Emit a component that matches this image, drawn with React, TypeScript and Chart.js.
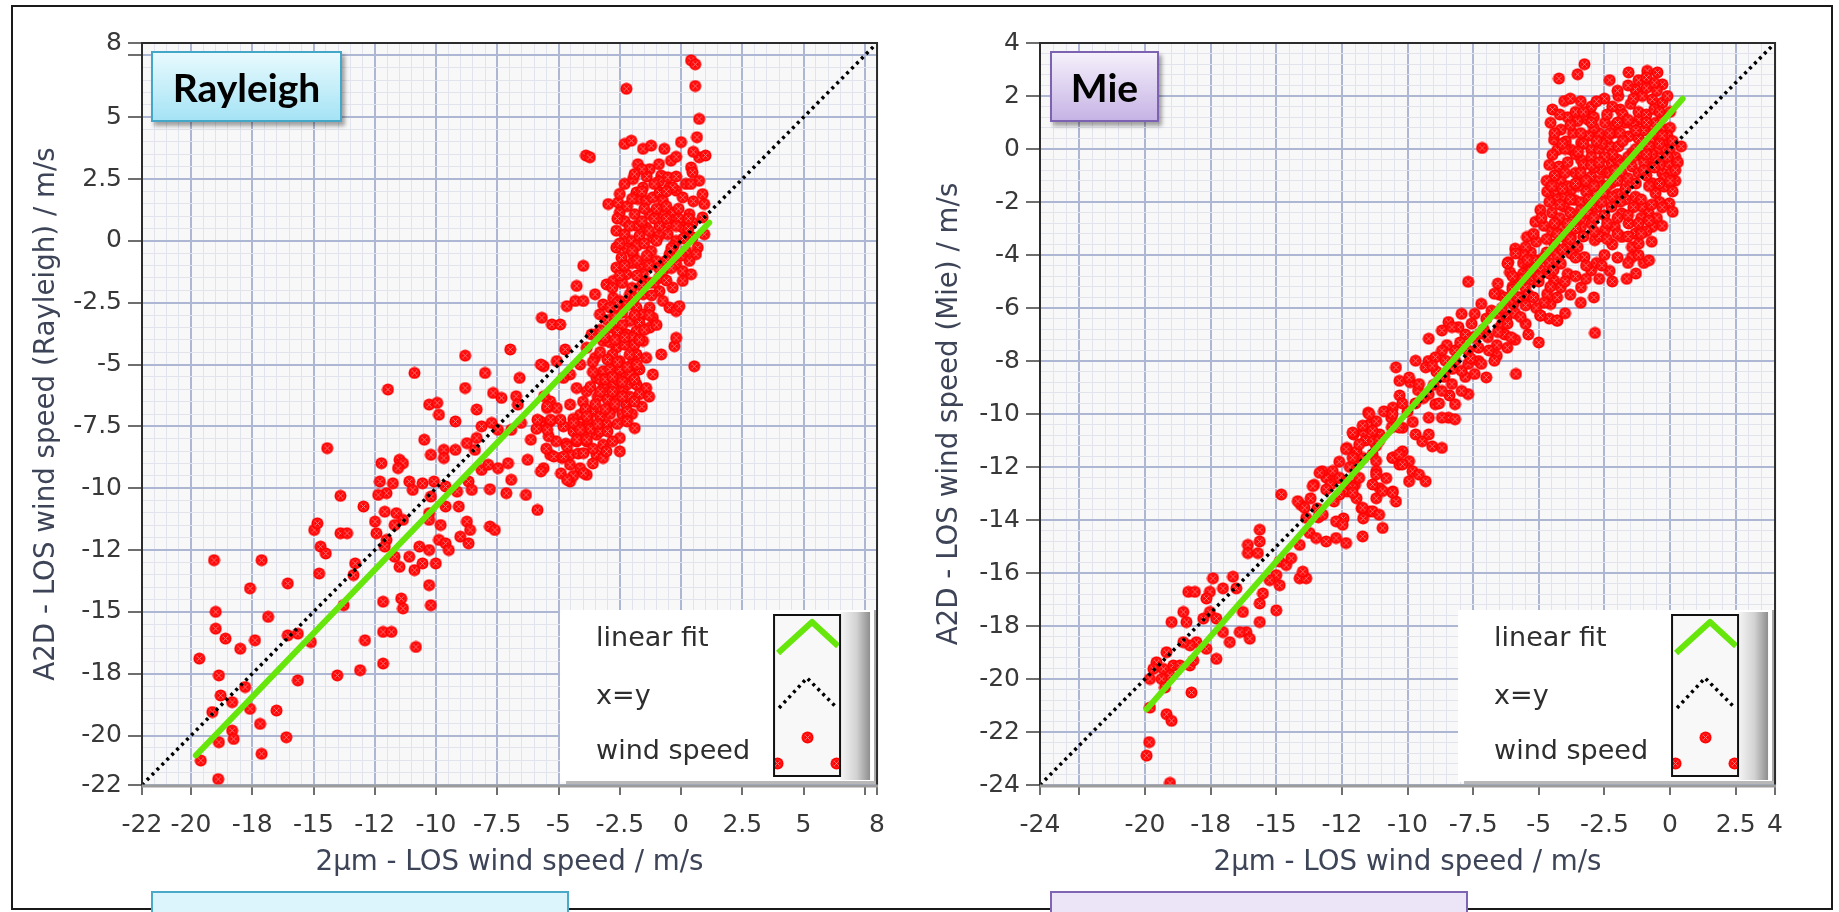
import React, { useEffect, useRef } from "react";
import { Chart, registerables } from "chart.js";

Chart.register(...registerables);

// ---------------- DATA ----------------
const RAYLEIGH_TICKS = [-22, -20, -17.5, -15, -12.5, -10, -7.5, -5, -2.5, 0, 2.5, 5, 7.5, 8];
const RAYLEIGH_LABELS = ["-22", "-20", "-18", "-15", "-12", "-10", "-7.5", "-5", "-2.5", "0", "2.5", "5", "", "8"];
const MIE_X_TICKS = [-24, -22.5, -20, -17.5, -15, -12.5, -10, -7.5, -5, -2.5, 0, 2.5, 4];
const MIE_X_LABELS = ["-24", "", "-20", "-18", "-15", "-12", "-10", "-7.5", "-5", "-2.5", "0", "2.5", "4"];
const MIE_Y_TICKS = [-24, -22, -20, -18, -16, -14, -12, -10, -8, -6, -4, -2, 0, 2, 4];
const MIE_Y_LABELS = ["-24", "-22", "-20", "-18", "-16", "-14", "-12", "-10", "-8", "-6", "-4", "-2", "0", "2", "4"];

const SERIES_LABELS = ["linear fit", "x=y", "wind speed"];

const rayleighFit = [[-19.8, -20.8], [1.15, 0.74]];
const rayleighIdentity = [[-22, -22], [8, 8]];
const mieFit = [[-19.94, -21.14], [0.48, 1.9]];
const mieIdentity = [[-24, -24], [4, 4]];

const rayleighPoints = [
  [0.41, 7.3], [0.58, 7.14], [-2.23, 6.15], [0.58, 6.26], [0.74, 4.93], [0.65, 4.19],
  [-3.88, 3.45], [-3.72, 3.38], [-2.3, 3.92], [-2.03, 4.05], [-1.55, 3.72], [-1.22, 3.85], [-0.68, 3.72], [-0.41, 3.24], [0.0, 3.99], [0.74, 3.38], [1.0, 3.45], [0.41, 2.97], [0.47, 2.77],
  [-1.76, 3.1], [-1.28, 2.9], [-0.81, 2.64], [-0.54, 2.57], [-2.3, 2.3], [-1.96, 2.5], [-1.55, 2.16], [-0.47, 2.16], [-0.2, 2.03], [0.74, 2.43], [0.88, 1.89], [0.95, 1.49],
  [-2.97, 1.49], [-2.57, 1.55], [-2.5, 1.15], [-1.82, 1.96], [-1.76, 1.69], [-1.42, 1.62], [-1.15, 1.76], [-0.88, 1.96], [-0.74, 1.62], [-0.34, 2.16], [0.07, 1.76],
  [-1.89, 1.08], [-1.28, 1.08], [-0.74, 1.08], [-0.34, 1.15], [0.34, 1.08], [0.47, 0.74], [0.88, 0.95], [0.95, 0.27],
  [-2.64, 0.41], [-2.3, 0.27], [-2.03, 0.0], [-1.82, 0.61], [-1.42, 0.54], [-1.15, 0.14], [-0.88, 0.61], [-0.54, 0.27], [-0.2, 0.0], [0.07, 0.54], [0.47, 0.14],
  [0.68, -0.27], [0.61, -0.54], [-2.64, -0.27], [-2.43, -0.68], [-2.64, -1.08], [-2.23, -1.35], [-1.96, -0.54], [-1.69, -0.95], [-1.55, -1.35], [-1.22, -0.41], [-1.01, -0.81], [-0.74, -1.22], [-0.47, -0.54], [-0.2, -0.95], [0.07, -1.22], [0.34, -0.81], [0.41, -1.35], [0.07, -1.62], [-0.34, -1.89],
  [-3.99, -1.01], [-4.26, -1.82], [-4.66, -2.64], [-4.32, -2.43], [-3.99, -2.43], [-5.68, -3.11], [-5.27, -3.38], [-4.93, -3.38], [-3.51, -2.16], [-3.04, -1.76], [-2.77, -1.62], [-3.31, -2.97], [-3.18, -2.57], [-2.77, -2.3], [-2.5, -2.43], [-2.09, -2.16], [-1.82, -2.7], [-1.55, -2.16], [-0.88, -2.03], [-0.74, -2.43], [-0.47, -2.7], [-0.2, -2.84], [-1.28, -2.7], [-1.15, -3.11], [-1.55, -2.97], [-0.07, -2.64],
  [0.54, -5.07], [-5.61, -5.07], [-5.07, -4.86], [-4.73, -4.39], [-4.53, -5.4], [-4.12, -5.0], [-3.85, -4.32], [-3.65, -3.78], [-3.51, -4.73], [-3.18, -4.05], [-3.18, -5.27], [-2.84, -3.51], [-2.64, -4.32], [-2.5, -4.86], [-2.36, -5.4], [-2.23, -3.78], [-2.09, -3.24], [-1.82, -3.65], [-1.82, -4.59], [-1.55, -4.05], [-1.42, -4.73], [-1.28, -3.51], [-1.15, -5.4], [-1.42, -5.95],
  [-2.09, -5.4], [-1.82, -5.81], [-2.36, -5.95], [-2.77, -5.81], [-3.18, -5.95], [-3.45, -5.54], [-3.85, -6.08], [-4.26, -5.95], [-0.81, -4.59], [-0.27, -4.26], [-0.2, -3.92],
  [-4.8, -5.54], [-5.34, -6.49], [-5.47, -6.76], [-5.07, -6.76], [-4.53, -6.62], [-4.12, -7.03], [-3.85, -7.43], [-3.58, -6.89], [-3.04, -7.43], [-3.45, -7.84], [-3.85, -8.11], [-3.18, -8.24], [-4.39, -7.7], [-4.26, -8.11], [-2.77, -6.76], [-2.23, -6.62], [-1.89, -7.57], [-2.5, -7.97], [-2.5, -8.51],
  [-5.34, -8.65], [-4.86, -8.78], [-4.53, -9.05], [-4.53, -8.65], [-4.12, -9.19], [-3.85, -9.46], [-4.53, -9.73], [-5.61, -9.19], [-5.74, -7.3], [-5.34, -7.3], [-3.45, -8.65], [-3.18, -8.78], [-3.04, -8.51],
  [-3.0, -3.2], [-2.7, -3.0], [-2.4, -3.4], [-2.0, -3.9], [-2.6, -3.7], [-3.3, -3.6], [-2.9, -4.1], [-2.3, -4.2], [-1.9, -4.2], [-2.1, -4.6], [-2.8, -4.6], [-3.3, -4.5], [-2.5, -5.2], [-2.0, -5.0], [-1.7, -5.2], [-2.9, -5.2], [-3.3, -5.6], [-2.6, -5.6], [-2.2, -5.8], [-1.7, -6.2], [-2.1, -6.3], [-2.6, -6.3], [-3.0, -6.4], [-3.4, -6.3], [-2.4, -7.0], [-2.9, -7.0], [-3.3, -7.1], [-2.0, -7.0], [-1.6, -6.7], [-1.3, -6.3], [-1.7, -3.3], [-1.3, -3.0], [-1.0, -3.4], [-2.2, -2.6], [-2.6, -2.5], [-1.9, -2.3], [-0.9, -1.5], [-1.3, -1.7], [-1.8, -1.4], [-2.0, -0.9], [-2.2, -0.3], [-1.7, 0.2], [-1.3, 0.4], [-0.9, 0.2], [-0.5, 0.7], [-0.1, 0.9], [-0.6, 1.4], [-1.0, 1.3], [-1.5, 1.3], [-2.2, 1.4], [-2.3, 0.8], [-0.3, -0.2], [0.2, -0.4], [-0.6, -0.8], [-1.4, -0.6], [-1.8, -0.2], [0.3, 0.5], [-0.1, 1.3], [0.5, 1.6], [0.2, 2.3], [-0.9, 2.4], [-1.4, 2.6],
  [-4.0, -6.5], [-4.4, -7.2], [-4.8, -7.5], [-3.7, -7.6], [-3.3, -7.7], [-4.0, -7.9], [-4.7, -8.2], [-4.9, -9.4], [-4.2, -8.6], [-3.6, -9.0], [-5.1, -8.1], [-5.4, -7.9], [-5.9, -7.6], [-5.5, -8.4], [-4.4, -9.5],
  [-2.8, -1.9], [-2.4, -1.7], [-2.0, -1.9], [-1.6, -1.8], [-1.2, -2.2], [-2.9, -2.7], [-2.4, -2.9], [-1.9, -3.0], [-1.5, -3.6], [-3.1, -3.9], [-2.7, -4.0], [-2.3, -3.9], [-1.7, -4.0], [-3.6, -4.9], [-3.0, -4.8], [-2.6, -4.9], [-2.2, -5.1], [-1.8, -5.0], [-3.6, -5.3], [-3.1, -5.6], [-2.8, -5.5], [-2.4, -5.7], [-1.9, -5.6], [-3.7, -5.9], [-3.3, -6.1], [-2.8, -6.1], [-2.4, -6.3], [-1.9, -6.5], [-3.9, -6.8], [-3.5, -6.6], [-3.1, -6.8], [-2.7, -6.6], [-2.2, -6.9], [-3.8, -7.2], [-3.4, -7.4], [-3.0, -7.7], [-2.6, -7.4], [-2.2, -7.3], [-4.2, -7.5], [-3.6, -8.4], [-2.8, -8.1],
  [-2.5, 1.9], [-2.0, 1.7], [-1.6, 2.0], [-1.1, 2.3], [-0.6, 2.0], [-0.2, 2.6], [0.4, 2.3], [-2.6, 0.9], [-2.1, 0.6], [-1.6, 0.8], [-1.1, 0.9], [-0.6, 0.9], [-0.2, 0.6], [0.3, 0.9], [-2.5, -0.1], [-2.0, -0.4], [-1.5, -0.1], [-1.0, 0.0], [-0.4, -0.3], [0.1, 0.1], [-2.3, -1.0], [-1.8, -0.8], [-1.3, -1.0], [-0.9, -1.1], [-0.4, -1.1], [0.0, -0.6], [-2.5, -1.4], [-1.1, -1.7], [-0.6, -1.6], [-1.6, 2.9], [-0.9, 3.1], [-0.2, 3.4], [0.5, 3.6], [-1.9, 2.7],
  [-8.81, -4.64], [-6.97, -4.39], [-5.72, -5.0], [-8.0, -5.34], [-6.59, -5.54], [-10.88, -5.34], [-11.96, -6.01], [-8.81, -5.95], [-7.67, -6.15], [-7.33, -6.35], [-6.73, -6.28], [-6.66, -6.62], [-5.59, -6.28], [-5.46, -6.69], [-10.28, -6.62], [-9.95, -6.55], [-9.88, -7.03], [-9.21, -7.3], [-8.34, -6.82], [-8.14, -7.5], [-7.73, -7.36], [-7.47, -7.64], [-6.93, -7.64], [-6.53, -7.36], [-6.13, -8.04], [-5.86, -7.23], [-5.32, -7.23], [-5.46, -7.64], [-4.92, -7.23], [-4.38, -7.36], [-4.12, -7.64], [-3.85, -7.09], [-4.25, -8.04], [-4.65, -8.31], [-3.85, -8.04], [-3.98, -8.58],
  [-14.44, -8.38], [-10.48, -8.04], [-10.21, -8.65], [-9.68, -8.45], [-9.21, -8.45], [-8.74, -8.18], [-8.34, -7.97], [-12.23, -8.99], [-11.49, -8.85], [-11.35, -8.99], [-11.55, -9.19], [-9.68, -8.78], [-8.41, -8.45], [-8.14, -9.26], [-7.87, -9.05], [-7.47, -9.19], [-7.06, -8.99], [-6.93, -9.66], [-6.26, -8.85], [-5.72, -9.32], [-5.19, -8.72], [-4.79, -8.72], [-4.65, -9.66], [-3.98, -9.39],
  [-12.29, -9.73], [-11.76, -9.8], [-12.02, -10.2], [-12.36, -10.27], [-11.09, -9.73], [-10.95, -10.07], [-10.55, -9.8], [-10.08, -9.73], [-13.9, -10.31], [-12.96, -10.74], [-10.21, -10.34], [-9.61, -9.93], [-9.14, -10.14], [-8.67, -9.73], [-8.54, -10.07], [-7.8, -10.04], [-7.13, -10.2], [-6.33, -10.27], [-5.86, -10.88], [-9.61, -10.74], [-9.07, -10.74],
  [-12.09, -10.95], [-11.62, -11.01], [-11.35, -11.28], [-12.49, -11.35], [-12.43, -11.82], [-11.69, -11.49], [-12.02, -12.09], [-10.28, -11.01], [-9.81, -11.49], [-9.88, -12.09], [-10.28, -11.28], [-8.74, -11.35], [-8.61, -11.69], [-9.01, -11.96], [-8.67, -12.23], [-7.8, -11.55], [-7.6, -11.69],
  [-14.97, -11.69], [-14.84, -11.42], [-13.9, -11.82], [-13.63, -11.82], [-14.71, -12.36], [-14.5, -12.64], [-14.77, -13.45], [-12.09, -12.36], [-11.69, -12.77], [-11.49, -13.18], [-11.09, -12.77], [-10.68, -12.36], [-10.28, -12.5], [-10.88, -13.31], [-10.55, -13.04], [-10.01, -13.04], [-9.61, -12.23], [-9.48, -12.5], [-13.3, -13.04], [-13.37, -13.51], [-13.77, -14.73], [-10.28, -13.92], [-10.21, -14.73], [-12.16, -14.59], [-11.42, -14.46], [-11.35, -14.86],
  [-19.06, -12.91], [-17.12, -12.91], [-17.59, -14.05], [-16.05, -13.85], [-18.99, -15.0], [-16.85, -15.2], [-18.99, -15.68], [-18.59, -16.08], [-17.99, -16.49], [-17.39, -16.15], [-16.05, -15.95], [-15.64, -15.88], [-15.11, -16.22], [-19.66, -16.89], [-12.16, -15.81], [-11.82, -15.81], [-12.9, -16.15], [-10.82, -16.42], [-12.16, -17.09], [-14.03, -17.57], [-13.1, -17.36], [-15.64, -17.77], [-18.86, -17.57], [-18.79, -18.38], [-18.32, -18.65], [-17.79, -18.04], [-19.13, -19.05], [-17.59, -18.92], [-16.51, -18.99], [-17.18, -19.53], [-18.32, -19.8], [-18.26, -20.14], [-18.86, -20.27], [-16.11, -20.07], [-17.12, -20.74], [-19.6, -21.01], [-18.89, -21.76],
];

const miePoints = [
  [-3.26, 3.2], [-3.52, 2.82], [-4.23, 2.66], [-1.58, 2.89], [-0.87, 2.95], [-0.48, 2.89], [-0.29, 2.44], [-4.03, 1.81], [-4.48, 1.49], [-3.06, 1.43], [-1.97, 2.0], [-1.9, 1.49], [-1.32, 2.25], [-1.06, 2.0], [-0.68, 1.87], [-0.29, 1.75],
  [-4.55, 0.99], [-4.16, 0.73], [-3.52, 1.05], [-3.13, 1.11], [-2.48, 0.99], [-2.16, 0.61], [-4.42, 0.35], [-3.97, 0.29], [-3.39, 0.23], [-4.29, -0.03], [-4.48, -0.22], [-4.23, -0.66], [-3.77, -0.03], [-3.39, -0.41], [-3.0, -0.03], [-2.61, 0.35], [-2.29, 0.1],
  [-1.71, 0.99], [-1.58, 0.48], [-1.19, 1.11], [-0.94, 0.73], [-0.55, 0.99], [-0.23, 0.73], [-1.97, 0.1], [-1.45, -0.15], [-1.06, 0.23], [-0.68, 0.35], [-0.29, 0.35], [-0.16, 0.1], [-0.1, 0.35], [-0.03, -0.03], [0.42, 0.1],
  [-4.68, -1.61], [-4.35, -1.67], [-4.94, -2.3], [-5.13, -2.75], [-5.45, -3.32], [-5.9, -3.76], [-6.16, -4.27], [-6.1, -4.65],
  [-4.16, -1.16], [-3.77, -1.54], [-4.03, -2.18], [-3.65, -1.92], [-3.39, -1.29], [-3.0, -1.04], [-2.61, -0.78], [-2.23, -0.53], [-2.87, -1.67], [-3.26, -2.18], [-3.52, -2.68], [-4.16, -2.94], [-3.77, -3.32], [-3.39, -2.94], [-3.13, -2.43], [-2.48, -1.67], [-2.23, -1.29],
  [-1.84, -0.91], [-1.45, -0.66], [-1.06, -0.28], [-0.81, -0.66], [-0.55, -0.41], [-0.29, -0.03], [-0.68, -1.29], [-0.29, -0.91], [-0.03, -0.53], [0.03, -0.91], [-0.55, -1.67], [-0.23, -1.42], [-0.03, -2.05], [0.1, -2.37], [-1.32, -1.8], [-1.06, -2.18], [-0.81, -2.43], [-0.68, -2.94], [-1.84, -2.43], [-1.58, -2.81], [-1.32, -3.19], [-1.45, -3.7], [-1.19, -3.57], [-2.23, -2.18], [-2.1, -2.94], [-1.84, -3.32], [-1.45, -4.08], [-1.65, -4.9],
  [-2.87, -3.44], [-2.48, -3.06], [-3.52, -3.7], [-3.26, -4.08], [-3.0, -4.58], [-3.39, -5.22], [-3.77, -3.95], [-4.16, -4.33], [-3.9, -4.71], [-4.42, -4.96], [-4.16, -5.22], [-4.94, -4.58], [-5.19, -4.96], [-5.52, -5.22], [-5.71, -5.59], [-4.94, -6.29], [-4.29, -6.48], [-2.86, -6.94], [-5.97, -5.85], [-6.23, -6.35], [-6.48, -6.73], [-4.68, -5.47], [-4.55, -5.85],
  [-7.16, 0.04],
  [-4.8, -2.9], [-4.5, -2.4], [-4.3, -1.9], [-3.9, -1.4], [-3.6, -0.9], [-3.3, -0.6], [-3.0, -0.3], [-2.7, 0.0], [-2.4, 0.4], [-2.1, 0.9], [-1.8, 1.3], [-1.5, 1.7], [-1.2, 1.4], [-0.9, 1.3], [-0.6, 1.5], [-0.3, 1.2], [0.0, 0.8], [-0.1, 0.5], [-0.5, 0.0], [-0.8, 0.1], [-1.2, 0.4], [-1.6, -0.3], [-2.0, -0.4], [-2.4, -0.9], [-2.7, -1.2], [-2.9, -0.7], [-3.2, -1.6], [-3.5, -1.4], [-3.8, -2.4], [-4.1, -3.3], [-4.4, -3.6], [-4.7, -3.9], [-5.0, -4.2], [-5.3, -3.9], [-5.6, -4.3], [-5.8, -4.9], [-5.4, -4.6], [-4.8, -4.1], [-4.5, -3.1], [-4.2, -2.6], [-3.4, -2.0], [-3.1, -1.9], [-2.8, -2.2], [-2.6, -1.4], [-2.3, -0.9], [-1.9, -0.6], [-1.6, -1.1], [-1.2, -0.9], [-0.9, -1.0], [-0.4, -0.6], [-0.2, -1.1], [-0.7, -0.2], [-1.0, 0.7], [-1.4, 0.9], [-2.7, 0.6], [-3.1, 0.5], [-3.7, 0.6], [-3.9, -0.5], [-4.0, -1.8], [-2.0, -1.7], [-1.7, -1.9], [-2.5, -2.5], [-3.0, -2.8], [-3.6, -3.0], [-2.7, -3.3], [-3.9, -3.6], [-4.3, -4.0], [-5.1, -3.5], [-5.5, -3.7], [-6.0, -5.2], [-5.4, -5.5], [-5.0, -5.0], [-0.6, 0.6], [-1.0, -0.5], [-2.2, -0.2], [-2.6, 0.2], [-3.3, 0.2], [-3.6, -0.2], [-4.0, 0.0], [-4.4, -1.0], [-4.7, -1.2], [-3.0, 1.6], [-2.2, 1.6], [-1.6, 2.4], [-0.9, 2.3], [-0.5, 2.2], [-2.5, 1.9], [-3.4, 1.8], [-3.9, 1.2], [0.2, -0.3], [0.2, -1.2], [0.1, -1.6], [-0.4, -2.0], [-0.5, -2.6], [-0.9, -3.1], [-1.1, -2.6], [-1.0, -4.3], [-2.2, -3.6], [-2.5, -4.0], [-2.8, -4.3], [-2.3, -4.6],
  [-3.8, 1.9], [-2.8, 1.8], [-2.0, 2.2], [-1.2, 2.6], [-0.6, 2.5], [-0.1, 2.0], [-0.9, 2.7], [-2.3, 2.6],
  [-4.2, 1.3], [-3.6, 1.4], [-2.9, 1.2], [-2.4, 1.3], [-1.6, 1.1], [-0.9, 1.0], [-0.4, 1.4], [0.0, 1.4], [-3.3, 1.4], [-1.4, 1.9],
  [-4.4, 0.6], [-3.8, 0.9], [-3.4, 0.6], [-2.9, 0.8], [-2.3, 0.6], [-1.9, 0.6], [-1.3, 0.7], [-0.3, 0.5], [0.1, 0.3], [-2.0, 1.0], [-3.0, 1.0],
  [-4.1, 0.2], [-3.5, -0.1], [-2.8, 0.3], [-2.5, -0.3], [-1.8, 0.3], [-1.3, 0.0], [-0.9, -0.2], [-0.4, 0.2], [0.3, -0.5],
  [-4.6, -0.6], [-4.0, -0.9], [-3.4, -0.9], [-3.0, -0.6], [-2.7, -0.5], [-2.1, -0.8], [-1.4, -0.3], [-1.0, -0.8], [-0.6, -0.7], [-0.1, -0.3], [0.2, -0.8],
  [-4.5, -1.4], [-4.1, -1.5], [-3.6, -1.3], [-3.2, -1.2], [-2.9, -1.4], [-2.4, -1.4], [-2.0, -1.2], [-1.7, -1.5], [-1.3, -1.3], [-0.8, -1.4], [-0.4, -1.3], [0.0, -1.2],
  [-4.6, -2.0], [-4.2, -2.1], [-3.8, -1.9], [-3.4, -2.3], [-3.0, -2.1], [-2.6, -2.0], [-2.2, -1.8], [-1.9, -2.0], [-1.4, -2.2], [-1.1, -1.9], [-0.7, -2.1], [-0.3, -2.2],
  [-4.9, -2.6], [-4.4, -2.8], [-3.9, -2.8], [-3.4, -2.6], [-2.9, -2.6], [-2.4, -2.8], [-2.0, -2.6], [-1.6, -2.5], [-1.2, -2.8], [-0.8, -2.7], [-0.3, -2.9],
  [-5.2, -3.2], [-4.7, -3.4], [-4.3, -3.2], [-3.8, -3.4], [-3.3, -3.3], [-2.9, -3.1], [-2.4, -3.4], [-2.0, -3.2], [-1.6, -3.3], [-1.1, -3.2], [-0.7, -3.5],
  [-5.6, -4.0], [-5.2, -4.2], [-4.6, -4.3], [-4.1, -3.8], [-3.6, -4.1], [-3.2, -4.4], [-2.6, -4.4], [-2.0, -4.1], [-1.6, -4.3], [-1.2, -4.0], [-0.8, -4.2],
  [-6.0, -4.8], [-5.6, -4.7], [-5.0, -4.8], [-4.6, -4.7], [-4.0, -5.0], [-3.6, -4.8], [-3.2, -4.9], [-2.7, -4.9], [-2.2, -5.0], [-1.3, -4.7],
  [-6.5, -5.5], [-6.1, -5.7], [-5.2, -5.6], [-4.8, -5.8], [-4.3, -5.6], [-3.8, -5.5], [-3.4, -5.8], [-2.9, -5.6],
  [-6.8, -6.1], [-6.4, -6.6], [-5.9, -6.2], [-5.5, -6.6], [-5.1, -6.0], [-4.6, -6.4], [-4.0, -6.2],
  [-7.5, -7.1], [-7.1, -6.8], [-6.6, -7.4], [-6.3, -7.0], [-5.9, -7.2], [-5.4, -7.0], [-5.0, -7.3],
  [-7.8, -7.0], [-8.2, -7.6], [-8.5, -7.4], [-8.9, -8.4], [-9.2, -8.0], [-9.6, -9.1], [-9.9, -8.8], [-10.3, -9.3], [-10.6, -10.5], [-10.9, -9.9], [-11.2, -11.2], [-11.6, -11.0], [-11.9, -11.9], [-12.2, -12.0], [-12.6, -11.8], [-12.8, -13.3], [-13.1, -12.4], [-13.4, -13.9], [-7.3, -8.0], [-7.8, -8.6], [-8.4, -9.3], [-6.6, -7.8], [-6.2, -7.5],
  [-5.88, -3.94], [-5.44, -4.19], [-6.19, -4.32], [-4.44, -4.57], [-4.56, -5.2], [-4.94, -6.28], [-4.31, -6.47], [-7.69, -5.01], [-6.56, -5.08], [-6.69, -5.46], [-7.19, -5.84], [-7.44, -6.22], [-7.94, -6.22], [-8.06, -6.72], [-8.44, -6.53], [-7.56, -6.59], [-7.25, -6.97], [-6.94, -7.1], [-6.56, -6.91], [-6.19, -6.59], [-6.06, -7.1], [-5.69, -6.34], [-9.19, -7.16], [-8.69, -6.85], [-8.31, -6.72], [-8.69, -7.61], [-8.94, -7.86], [-8.56, -7.99], [-9.69, -7.99], [-9.31, -8.24], [-9.06, -8.18], [-10.44, -8.24], [-10.31, -8.75], [-9.94, -8.62], [-9.56, -8.87], [-8.19, -7.99], [-7.94, -8.37], [-7.69, -8.11], [-7.44, -8.49], [-7.19, -8.11], [-7.0, -8.62], [-6.69, -7.99], [-5.87, -8.49], [-7.69, -9.25], [-8.19, -9.63], [-8.44, -10.14], [-8.94, -9.63], [-9.19, -9.25], [-8.69, -9.13], [-8.31, -8.87], [-7.94, -9.13], [-9.19, -10.14], [-8.69, -10.14], [-8.19, -10.2], [-10.56, -9.76], [-10.62, -10.14], [-10.19, -10.52], [-9.69, -10.77], [-9.44, -11.03], [-9.19, -10.77], [-9.06, -11.22], [-8.69, -11.28], [-11.5, -9.95], [-11.44, -10.39], [-11.69, -10.65], [-12.06, -10.77], [-11.06, -10.77], [-11.31, -11.03], [-11.19, -10.27], [-12.31, -11.28], [-11.94, -11.41], [-11.69, -11.66], [-10.56, -11.66], [-10.19, -11.41], [-10.31, -11.91], [-9.94, -11.78], [-9.81, -12.16], [-9.56, -12.29], [-9.31, -12.54], [-9.94, -12.54], [-11.19, -12.16], [-10.81, -12.42], [-11.06, -12.8], [-10.56, -12.92], [-10.44, -13.3], [-11.19, -13.18], [-11.44, -13.68], [-13.25, -12.16], [-13.56, -12.67], [-12.94, -12.67], [-12.69, -12.42], [-12.31, -12.92], [-12.0, -12.67], [-11.94, -13.18], [-13.69, -13.18], [-14.06, -13.43], [-13.44, -13.56], [-11.75, -13.56], [-11.69, -13.94], [-12.44, -13.94],
  [-6.3, -5.6], [-6.0, -5.3], [-5.6, -4.9], [-5.3, -4.6], [-6.6, -6.2], [-7.0, -6.4], [-7.3, -7.5], [-7.7, -7.6], [-8.0, -7.3], [-8.3, -8.3], [-8.6, -8.6], [-9.0, -8.9], [-9.4, -9.4], [-9.7, -9.6], [-10.0, -9.9], [-10.2, -9.6], [-6.4, -6.0], [-5.8, -5.6], [-5.5, -5.9], [-6.9, -7.6], [-7.6, -7.9], [-8.8, -9.6], [-9.8, -10.3],
  [-11.46, -10.0], [-11.71, -10.44], [-12.09, -10.7], [-11.84, -11.14], [-11.33, -10.63], [-11.08, -11.01], [-10.57, -10.0], [-10.32, -10.51], [-12.34, -11.33], [-12.09, -11.65], [-11.33, -11.52], [-11.2, -11.77], [-10.57, -11.65], [-10.32, -11.52], [-10.19, -11.9], [-13.35, -12.22], [-12.85, -12.15], [-12.59, -12.41], [-12.34, -12.59], [-12.09, -12.78], [-11.84, -12.41], [-13.61, -12.72], [-13.1, -12.85], [-12.59, -13.04], [-12.09, -12.97], [-11.2, -12.28], [-10.95, -12.91], [-10.57, -12.97], [-11.33, -12.66], [-11.71, -13.54], [-11.33, -13.67], [-10.95, -14.3], [-11.08, -13.8], [-11.71, -14.62], [-14.81, -13.04], [-14.18, -13.29], [-13.92, -13.54], [-13.86, -13.92], [-13.23, -13.8], [-12.72, -14.05], [-12.47, -14.18], [-13.73, -14.49], [-13.48, -14.68], [-13.1, -14.81], [-12.72, -14.68], [-12.34, -14.87], [-14.11, -14.94], [-15.63, -14.37], [-16.08, -14.94], [-15.63, -14.81], [-16.08, -15.25], [-15.7, -15.25], [-14.87, -15.57], [-14.62, -15.7], [-15.0, -16.08], [-15.25, -16.27], [-14.87, -16.46], [-14.43, -15.44], [-14.11, -16.2], [-13.86, -16.2], [-13.99, -15.95], [-15.51, -16.77], [-15.0, -17.41], [-15.63, -17.15], [-17.41, -16.2], [-16.65, -16.14], [-17.03, -16.58], [-16.52, -16.58], [-17.53, -16.71], [-18.35, -16.71], [-18.1, -16.71], [-17.66, -16.96], [-17.53, -17.47], [-17.28, -17.72], [-17.78, -17.72], [-18.54, -17.47], [-18.42, -17.85], [-18.99, -17.85], [-16.27, -17.47], [-15.63, -17.85], [-16.14, -18.23], [-16.39, -18.23], [-16.01, -18.48], [-17.03, -18.23], [-16.77, -18.61], [-17.28, -19.24], [-17.66, -18.86], [-18.04, -18.61], [-18.29, -18.73], [-18.54, -18.61], [-18.92, -19.49], [-19.18, -18.99], [-19.56, -19.37], [-19.68, -19.62], [-19.3, -19.62], [-18.29, -19.49], [-18.16, -19.3], [-18.67, -19.49], [-19.05, -19.87], [-19.37, -20.0], [-19.81, -20.0], [-19.24, -20.32], [-18.23, -20.51], [-19.81, -21.08], [-19.18, -21.33], [-18.99, -21.58], [-19.84, -22.38], [-19.94, -22.89], [-19.05, -23.92],
];

// ---------------- STYLE ----------------
const FONT = "'DejaVu Sans', 'Liberation Sans', sans-serif";
const MAJOR_GRID = "#adb6d2";
const MINOR_GRID = "#e1e4ed";
const FIT_COLOR = "#66e60a";

function makeMarker() {
  const c = document.createElement("canvas");
  c.width = 13;
  c.height = 13;
  const g = c.getContext("2d");
  g.fillStyle = "#ff0000";
  g.beginPath();
  g.arc(6.5, 6.5, 6.0, 0, Math.PI * 2);
  g.fill();
  g.strokeStyle = "rgba(255,170,170,0.75)";
  g.lineWidth = 1;
  g.beginPath();
  g.moveTo(4.2, 4.2); g.lineTo(8.8, 8.8);
  g.moveTo(8.8, 4.2); g.lineTo(4.2, 8.8);
  g.stroke();
  g.strokeStyle = "rgba(255,120,120,0.35)";
  g.beginPath();
  g.arc(6.5, 6.5, 3.8, 0, Math.PI * 2);
  g.stroke();
  return c;
}

function withMinor(majors, min, max, step) {
  const s = new Set(majors.map((v) => Math.round(v * 1000)));
  const n = Math.round((max - min) / step);
  for (let i = 0; i <= n; i++) s.add(Math.round((min + i * step) * 1000));
  return Array.from(s).sort((a, b) => a - b).map((v) => v / 1000);
}

function makeScale(majors, labels, min, max, minorStep, axis, titleText, titlePad, fixedSize, tickLen, labelPad) {
  const key = (v) => Math.round(v * 1000);
  const labelMap = new Map();
  majors.forEach((v, i) => labelMap.set(key(v), labels[i]));
  const all = withMinor(majors, min, max, minorStep);
  const isMajor = (c) => c.tick && labelMap.has(key(c.tick.value));
  return {
    type: "linear",
    min,
    max,
    afterBuildTicks: (scale) => {
      scale.ticks = all.map((v) => ({ value: v }));
    },
    afterFit: (scale) => {
      if (axis === "x") scale.height = fixedSize;
      else scale.width = fixedSize;
    },
    border: { display: false },
    grid: {
      color: (c) => (isMajor(c) ? MAJOR_GRID : MINOR_GRID),
      lineWidth: (c) => (isMajor(c) ? 2 : 1),
      tickColor: (c) => (isMajor(c) ? "#4a4a4a" : "rgba(0,0,0,0)"),
      tickWidth: 1.6,
      tickLength: tickLen,
      drawTicks: true,
    },
    ticks: {
      autoSkip: false,
      maxRotation: 0,
      minRotation: 0,
      padding: labelPad,
      color: "#383838",
      font: { family: FONT, size: 25 },
      callback: (value) => {
        const l = labelMap.get(key(value));
        return l === undefined ? "" : l;
      },
    },
    title: {
      display: true,
      text: titleText,
      color: "#3d4457",
      font: { family: FONT, size: 27.7 },
      padding: titlePad,
    },
  };
}

const legendPlugin = {
  id: "panelLegend",
  afterDatasetsDraw(chart) {
    const { ctx, chartArea: ca } = chart;
    const ds = chart.data.datasets;
    const pts = ds.find((d) => d.label === SERIES_LABELS[2]);
    const fit = ds.find((d) => d.label === SERIES_LABELS[0]);
    const ident = ds.find((d) => d.label === SERIES_LABELS[1]);
    const marker = pts.pointStyle;
    const L = ca.right - 317, T = ca.bottom - 175, R = ca.right - 1, B = ca.bottom - 3;
    ctx.save();
    ctx.fillStyle = "#ffffff";
    ctx.fillRect(L, T, R - L, B - T);
    const gx = R - 36;
    const gr = ctx.createLinearGradient(gx, 0, R - 6, 0);
    gr.addColorStop(0, "#f6f6f6");
    gr.addColorStop(0.55, "#d2d2d2");
    gr.addColorStop(1, "#8e8e8e");
    ctx.fillStyle = gr;
    ctx.fillRect(gx, T + 2, R - 6 - gx, B - T - 4);
    ctx.fillStyle = "#a8a8a8";
    ctx.fillRect(R - 2, T, 2, B - T);
    ctx.fillStyle = "#b8b8b8";
    ctx.fillRect(L + 6, B - 1, R - L - 6, 3);
    const sx = ca.right - 103, sy = T + 5, sw = 66, sh = 161;
    ctx.fillStyle = "#f8f8f8";
    ctx.fillRect(sx, sy, sw, sh);
    ctx.fillStyle = "#2e2e2e";
    ctx.font = `27px ${FONT}`;
    ctx.textBaseline = "middle";
    ctx.textAlign = "left";
    ctx.fillText(SERIES_LABELS[0], L + 36, T + 29);
    ctx.fillText(SERIES_LABELS[1], L + 36, T + 87);
    ctx.fillText(SERIES_LABELS[2], L + 36, T + 142);
    ctx.save();
    ctx.beginPath();
    ctx.rect(sx, sy, sw, sh);
    ctx.clip();
    ctx.strokeStyle = fit.borderColor;
    ctx.lineWidth = fit.borderWidth;
    ctx.lineJoin = "round";
    ctx.beginPath();
    ctx.moveTo(sx + 4, sy + 38);
    ctx.lineTo(sx + 38, sy + 7);
    ctx.lineTo(sx + 64, sy + 31);
    ctx.stroke();
    ctx.strokeStyle = ident.borderColor;
    ctx.lineWidth = ident.borderWidth;
    ctx.setLineDash(ident.borderDash);
    ctx.beginPath();
    ctx.moveTo(sx + 5, sy + 93);
    ctx.lineTo(sx + 33, sy + 63);
    ctx.lineTo(sx + 63, sy + 93);
    ctx.stroke();
    ctx.setLineDash([]);
    if (marker && marker.width) {
      ctx.drawImage(marker, sx + 27, sy + 116);
      ctx.drawImage(marker, sx - 3, sy + 142);
      ctx.drawImage(marker, sx + 56, sy + 142);
    }
    ctx.restore();
    ctx.strokeStyle = "#111";
    ctx.lineWidth = 2;
    ctx.strokeRect(sx, sy, sw, sh);
    // plot frame
    ctx.strokeStyle = "#2b2b2b";
    ctx.lineWidth = 2;
    ctx.beginPath();
    ctx.moveTo(ca.left, ca.bottom);
    ctx.lineTo(ca.left, ca.top);
    ctx.lineTo(ca.right, ca.top);
    ctx.lineTo(ca.right, ca.bottom);
    ctx.stroke();
    ctx.strokeStyle = "#9c9c9c";
    ctx.lineWidth = 3;
    ctx.beginPath();
    ctx.moveTo(ca.left, ca.bottom + 1);
    ctx.lineTo(ca.right + 1, ca.bottom + 1);
    ctx.stroke();
    ctx.restore();
  },
};

const bgPlugin = {
  id: "plotBg",
  beforeDraw(chart) {
    const { ctx, chartArea: ca } = chart;
    ctx.save();
    ctx.fillStyle = "#f8f8f8";
    ctx.fillRect(ca.left, ca.top, ca.right - ca.left, ca.bottom - ca.top);
    ctx.restore();
  },
};

function toXY(arr) {
  return arr.map((p) => ({ x: p[0], y: p[1] }));
}

function Panel({ left, points, fit, identity, xTicks, xLabels, yTicks, yLabels, min, max, yMinor, yTitle, yTitlePad, padRight }) {
  const ref = useRef(null);
  useEffect(() => {
    const marker = makeMarker();
    const chart = new Chart(ref.current, {
      type: "scatter",
      data: {
        datasets: [
          { label: SERIES_LABELS[2], data: toXY(points), pointStyle: marker, pointRadius: 6.5, showLine: false, order: 3 },
          { label: SERIES_LABELS[1], data: toXY(identity), showLine: true, borderColor: "#000000", borderWidth: 3.5, borderDash: [3, 4], pointRadius: 0, order: 2 },
          { label: SERIES_LABELS[0], data: toXY(fit), showLine: true, borderColor: FIT_COLOR, borderWidth: 6, borderCapStyle: "round", pointRadius: 0, order: 1 },
        ],
      },
      options: {
        animation: false,
        responsive: false,
        devicePixelRatio: 1,
        events: [],
        layout: { padding: { top: 23, right: padRight, left: 0, bottom: 0 } },
        plugins: { legend: { display: false }, tooltip: { enabled: false }, title: { display: false } },
        scales: {
          x: makeScale(xTicks, xLabels, min, max, 0.5, "x", "2\u00b5m - LOS wind speed / m/s", { top: 0, bottom: 11 }, 105, 10, 15),
          y: makeScale(yTicks, yLabels, min, max, yMinor, "y", yTitle, { top: yTitlePad, bottom: 0 }, 122, 14, 6),
        },
      },
      plugins: [bgPlugin, legendPlugin],
    });
    return () => chart.destroy();
  }, []);
  return (
    <canvas
      ref={ref}
      width={880}
      height={870}
      style={{ position: "absolute", left, top: 20, width: 880, height: 870 }}
    />
  );
}

function TitleBox({ left, width, text, top, bottom, border }) {
  return (
    <div
      style={{
        position: "absolute",
        left,
        top: 51,
        width,
        height: 71,
        boxSizing: "border-box",
        border: `2px solid ${border}`,
        background: `linear-gradient(to bottom, ${top}, ${bottom})`,
        boxShadow: "3px 4px 4px rgba(0,0,0,0.35)",
        display: "flex",
        alignItems: "center",
        justifyContent: "center",
        fontFamily: "Lato, 'Open Sans', sans-serif",
        fontWeight: 700,
        fontSize: 39,
        color: "#000",
      }}
    >
      {text}
    </div>
  );
}

export default function App() {
  return (
    <div style={{ position: "fixed", left: 0, top: 0, width: 1839, height: 912, background: "#ffffff", overflow: "hidden" }}>
      <div style={{ position: "absolute", left: 11, top: 5, width: 1822, height: 905, boxSizing: "border-box", border: "2px solid #1a1a1a" }} />
      <Panel
        left={20}
        points={rayleighPoints}
        fit={rayleighFit}
        identity={rayleighIdentity}
        xTicks={RAYLEIGH_TICKS}
        xLabels={RAYLEIGH_LABELS}
        yTicks={RAYLEIGH_TICKS}
        yLabels={RAYLEIGH_LABELS}
        min={-22}
        max={8}
        yMinor={0.5}
        yTitle="A2D - LOS wind speed (Rayleigh) / m/s"
        yTitlePad={10}
        padRight={17}
      />
      <Panel
        left={918}
        points={miePoints}
        fit={mieFit}
        identity={mieIdentity}
        xTicks={MIE_X_TICKS}
        xLabels={MIE_X_LABELS}
        yTicks={MIE_Y_TICKS}
        yLabels={MIE_Y_LABELS}
        min={-24}
        max={4}
        yMinor={0.4}
        yTitle="A2D - LOS wind speed (Mie) / m/s"
        yTitlePad={15}
        padRight={15}
      />
      <TitleBox left={151} width={191} text="Rayleigh" top="#e8fafe" bottom="#a5e3f5" border="#45a7c7" />
      <TitleBox left={1050} width={109} text="Mie" top="#f5f0fb" bottom="#c6b3e5" border="#7d62b2" />
      <div style={{ position: "absolute", left: 151, top: 891, width: 418, height: 40, boxSizing: "border-box", border: "2px solid #4aa8c8", background: "#dcf4fb" }} />
      <div style={{ position: "absolute", left: 1050, top: 891, width: 418, height: 40, boxSizing: "border-box", border: "2px solid #7f64b4", background: "#ebe5f7" }} />
    </div>
  );
}
